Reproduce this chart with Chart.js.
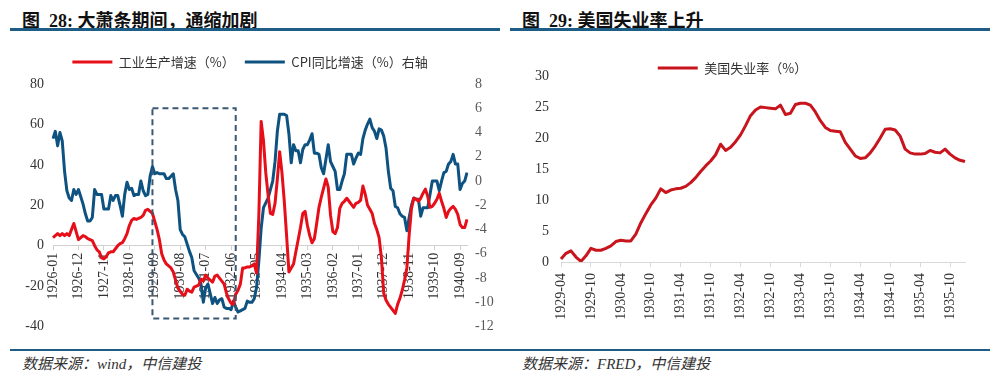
<!DOCTYPE html>
<html>
<head>
<meta charset="utf-8">
<script src="https://cdn.jsdelivr.net/npm/chart.js@4.4.1/dist/chart.umd.min.js"></script>
<style>
    body { margin: 0; background: #fff; }
    .page { position: relative; width: 1004px; height: 386px; overflow: hidden; background: #fff; }
    .title { position: absolute; top: 6px; font: bold 18px 'Liberation Serif', 'Noto Sans CJK SC', serif; color: #111; white-space: pre; }
    .rule { position: absolute; background: #1d5d86; }
    .source { position: absolute; top: 352px; font: italic 15px 'Liberation Serif', 'Noto Sans CJK SC', serif; color: #333; }
    canvas { position: absolute; }
</style>
</head>
<body>
<div class="page">
    <div class="title" style="left: 22px;">图  28: 大萧条期间，通缩加剧</div>
    <div class="rule" style="left: 10px; top: 28px; width: 490px; height: 3px;"></div>
    <div class="title" style="left: 522px;">图  29: 美国失业率上升</div>
    <div class="rule" style="left: 510px; top: 28px; width: 480px; height: 3px;"></div>

    <canvas id="chartLeft" width="500" height="308" style="left: 0; top: 36px;"></canvas>
    <canvas id="chartRight" width="504" height="300" style="left: 500px; top: 36px;"></canvas>

    <div class="rule" style="left: 10px; top: 349px; width: 980px; height: 2px;"></div>
    <div class="source" style="left: 22px;">数据来源：wind，中信建投</div>
    <div class="source" style="left: 522px;">数据来源：FRED，中信建投</div>
</div>

<script>
Chart.defaults.font.family = "'Liberation Serif', 'Noto Sans CJK SC', serif";
Chart.defaults.color = '#333';

// 图28: 1926-01 .. 1940-12, monthly
const ipGrowth = [
    4, 5, 6, 5, 6, 5, 6, 5, 8, 11, 7, 3,
    4, 5, 4.5, 3.5, 3, 2.5, 0, -2, -3, -6, -6.5, -5.5,
    -3.5, -3, -3, -1.5, 0, 1, 1.5, 3.5, 6, 10, 12.5, 13.5,
    13, 13.5, 14, 15, 17.5, 18, 17, 16, 12, 8, 3, -4,
    -7, -9, -10, -11, -13, -17, -21, -22.5, -24, -24.5, -21.5, -22.5,
    -23, -20.5, -20, -19.5, -16.5, -17.5, -14.5, -16, -17, -18, -15, -14.5,
    -16, -17.5, -19, -23.5, -26.5, -28.5, -29, -24, -22, -19, -11, -11,
    -10.5, -10.5, -10, -9, -13.5, 15, 61.5, 52, 36, 25, 16, 15.5,
    21, 33, 46.5, 36, 22, 5, -13, -11, -9, -3, 3, 9,
    16, 17, 10, 5, 1.5, 3.5, 11, 19, 24, 28.5, 33, 29,
    15, 7, 6, 9, 18.5, 21, 22, 23.5, 22, 20.5, 19, 21,
    21.5, 22.5, 29.5, 25.5, 20, 18, 16, 11, 8, 4, -6, -23.5,
    -27, -29, -30.5, -32, -33.5, -29, -26, -22, -17, -11, 5.5, 18.5,
    23.5, 23, 22, 23.5, 26, 28, 24.5, 19, 19.5, 21, 23, 26,
    22, 18.5, 14, 17, 18.5, 19.5, 18, 15.5, 10.5, 9, 9, 13
];

const cpiGrowth = [
    3.5, 4.1, 2.9, 4.0, 3.3, 0.8, -0.8, -1.4, -1.6, -0.7, -1.1, -0.7,
    -1.3, -1.9, -2.7, -3.3, -3.3, -3.0, -0.7, -1.1, -1.1, -1.1, -2.3, -2.3,
    -2.3, -1.2, -1.6, -1.2, -1.2, -2.0, -2.9, -1.1, -0.1, -0.7, -0.6, -1.2,
    -1.1, -1.1, 0, -0.8, -1.2, -1.1, 0.4, 1.2, 0.6, 0.7, 0.6, 0.6,
    0.6, 0.2, 0.2, 0.4, 0.6, -0.7, -1.6, -4.0, -4.4, -4.6, -5.2, -5.8,
    -6.3, -7.4, -7.7, -8.0, -8.5, -10.0, -8.8, -8.5, -9.3, -10.1, -9.6, -10.1,
    -9.8, -9.7, -10.4, -10.5, -10.5, -10.6, -9.9, -10.4, -10.8, -10.7, -10.6, -10.5,
    -9.9, -10.0, -10.0, -9.7, -8.8, -6.6, -3.9, -2.2, -1.8, -1.4, -0.7, 0,
    1.6, 4.1, 5.5, 5.5, 5.5, 5.4, 3.9, 1.5, 3.0, 2.5, 2.5, 1.5,
    2.6, 3.0, 3.0, 3.4, 3.9, 2.3, 2.3, 2.2, 1.1, 0.6, 1.8, 3.0,
    1.6, 1.2, 0.8, -0.7, -0.7, 0, 0.6, 2.2, 2.2, 2.2, 1.4, 1.9,
    2.3, 2.2, 3.5, 4.2, 4.7, 5.1, 4.4, 4.1, 3.5, 4.3, 4.2, 3.7,
    2.7, 0.8, -0.6, -0.8, -2.1, -2.2, -2.7, -2.9, -3.0, -4.1, -3.0, -2.0,
    -1.4, -1.5, -1.5, -2.9, -2.2, -2.2, -2.2, -1.1, 0, 0, 0, -0.8,
    0, 0.7, 0.8, 1.4, 1.6, 2.2, 1.4, 1.4, -0.7, -0.2, 0, 0.7
];

// 图29: 1929-04 .. 1936-01, monthly
const unemployment = [
    0.5, 1.4, 1.8, 0.8, 0.1, 1.0, 2.2, 1.9, 1.9,
    2.2, 2.6, 3.3, 3.5, 3.4, 3.4, 4.5, 6.3, 7.8, 9.2, 10.3, 11.8,
    11.2, 11.6, 11.8, 11.9, 12.2, 12.8, 13.6, 14.6, 15.5, 16.3, 17.3, 19.0,
    18.0, 18.5, 19.4, 20.5, 22.0, 23.6, 24.5, 25.0, 24.9, 24.8, 24.7, 25.3,
    23.8, 24.0, 25.4, 25.6, 25.6, 25.3, 24.2, 22.8, 21.7, 21.2, 21.1, 21.0,
    19.3, 18.2, 17.1, 16.7, 16.8, 17.6, 18.7, 20.0, 21.4, 21.5, 21.3, 20.3,
    18.2, 17.6, 17.4, 17.4, 17.5, 18.0, 17.7, 17.6, 18.2, 17.4, 16.8, 16.4,
    16.2
];

const leftMonths = monthLabels(1926, 1, ipGrowth.length);
const rightMonths = monthLabels(1929, 4, unemployment.length);

// dashed frame around the deflation period
const boxFrom = '1929-08';
const boxTo = '1932-08';
const boxHigh = 68;
const boxLow = -36;

function monthLabels(startYear, startMonth, count) {
    const labels = [];
    for (let i = 0; i < count; i++) {
        const m = startMonth - 1 + i;
        labels.push(`${startYear + Math.floor(m / 12)}-${String(m % 12 + 1).padStart(2, '0')}`);
    }
    return labels;
}

function keepEvery(step) {
    return scale => {
        scale.ticks = scale.ticks.filter(tick => tick.value % step === 0);
    };
}

function legendGap(extra) {
    return {
        id: 'legendGap',
        beforeLayout(chart) {
            if (chart.legend._gapPatched) return;
            const fit = chart.legend.fit;
            chart.legend.fit = function () {
                fit.call(this);
                this.height += extra;
            };
            chart.legend._gapPatched = true;
        }
    };
}

const dashedBox = {
    id: 'dashedBox',
    afterDatasetsDraw(chart) {
        const {ctx, scales: {x, y}} = chart;
        const left = x.getPixelForValue(leftMonths.indexOf(boxFrom));
        const right = x.getPixelForValue(leftMonths.indexOf(boxTo));
        const top = y.getPixelForValue(boxHigh);
        const bottom = y.getPixelForValue(boxLow);
        ctx.save();
        ctx.setLineDash([6, 4]);
        ctx.lineWidth = 2;
        ctx.strokeStyle = '#3b5873';
        ctx.strokeRect(left, top, right - left, bottom - top);
        ctx.restore();
    }
};

const tickFont = { size: 14 };
const legendLabels = {
    usePointStyle: true,
    pointStyle: 'line',
    pointStyleWidth: 40,
    padding: 10,
    color: '#333',
    font: { family: "'Noto Sans CJK SC', sans-serif", size: 13 }
};

new Chart(document.getElementById('chartLeft'), {
    type: 'line',
    data: {
        labels: leftMonths,
        datasets: [
            {
                label: '工业生产增速（%）',
                data: ipGrowth,
                yAxisID: 'y',
                borderColor: '#e60f19',
                backgroundColor: '#e60f19',
                borderWidth: 3,
                pointRadius: 0,
                borderJoinStyle: 'round'
            },
            {
                label: 'CPI同比增速（%）右轴',
                data: cpiGrowth,
                yAxisID: 'y1',
                borderColor: '#0d5280',
                backgroundColor: '#0d5280',
                borderWidth: 3,
                pointRadius: 0,
                borderJoinStyle: 'round'
            }
        ]
    },
    options: {
        responsive: false,
        animation: false,
        layout: { padding: { top: 9.5, bottom: 1, left: 0, right: 0 } },
        plugins: {
            legend: { labels: legendLabels },
            tooltip: { enabled: false }
        },
        scales: {
            x: {
                type: 'category',
                position: { y: 0 },
                afterBuildTicks: keepEvery(11),
                ticks: { autoSkip: false, minRotation: 90, maxRotation: 90, padding: 3, font: tickFont, color: '#333' },
                grid: { drawOnChartArea: false, tickLength: 4, color: '#d0d0d0' },
                border: { color: '#d0d0d0' }
            },
            y: {
                position: 'left',
                min: -40,
                max: 80,
                afterFit: scale => { scale.width = 53; },
                ticks: { stepSize: 20, padding: 9, font: tickFont, color: '#333' },
                grid: { display: false, drawTicks: false },
                border: { display: false }
            },
            y1: {
                position: 'right',
                min: -12,
                max: 8,
                afterFit: scale => { scale.width = 33; },
                ticks: { stepSize: 2, padding: 8, font: tickFont, color: '#595959' },
                grid: { display: false, drawTicks: false },
                border: { display: false }
            }
        }
    },
    plugins: [legendGap(5.5), dashedBox]
});

new Chart(document.getElementById('chartRight'), {
    type: 'line',
    data: {
        labels: rightMonths,
        datasets: [
            {
                label: '美国失业率（%）',
                data: unemployment,
                borderColor: '#c8141c',
                backgroundColor: '#c8141c',
                borderWidth: 3,
                pointRadius: 0,
                borderJoinStyle: 'round'
            }
        ]
    },
    options: {
        responsive: false,
        animation: false,
        layout: { padding: { top: 15.5, bottom: 14, left: 0, right: 39 } },
        plugins: {
            legend: { labels: legendLabels },
            tooltip: { enabled: false }
        },
        scales: {
            x: {
                afterBuildTicks: keepEvery(6),
                afterFit: scale => { scale.height = 60; },
                ticks: { autoSkip: false, minRotation: 90, maxRotation: 90, padding: 6, font: tickFont, color: '#333' },
                grid: { drawOnChartArea: false, tickLength: 5, color: '#d9d9d9' },
                border: { color: '#d9d9d9' }
            },
            y: {
                min: 0,
                max: 30,
                afterFit: scale => { scale.width = 61; },
                ticks: { stepSize: 5, padding: 12, font: tickFont, color: '#333' },
                grid: { display: false, drawTicks: false },
                border: { display: false }
            }
        }
    },
    plugins: [legendGap(-8.5)]
});
</script>
</body>
</html>
